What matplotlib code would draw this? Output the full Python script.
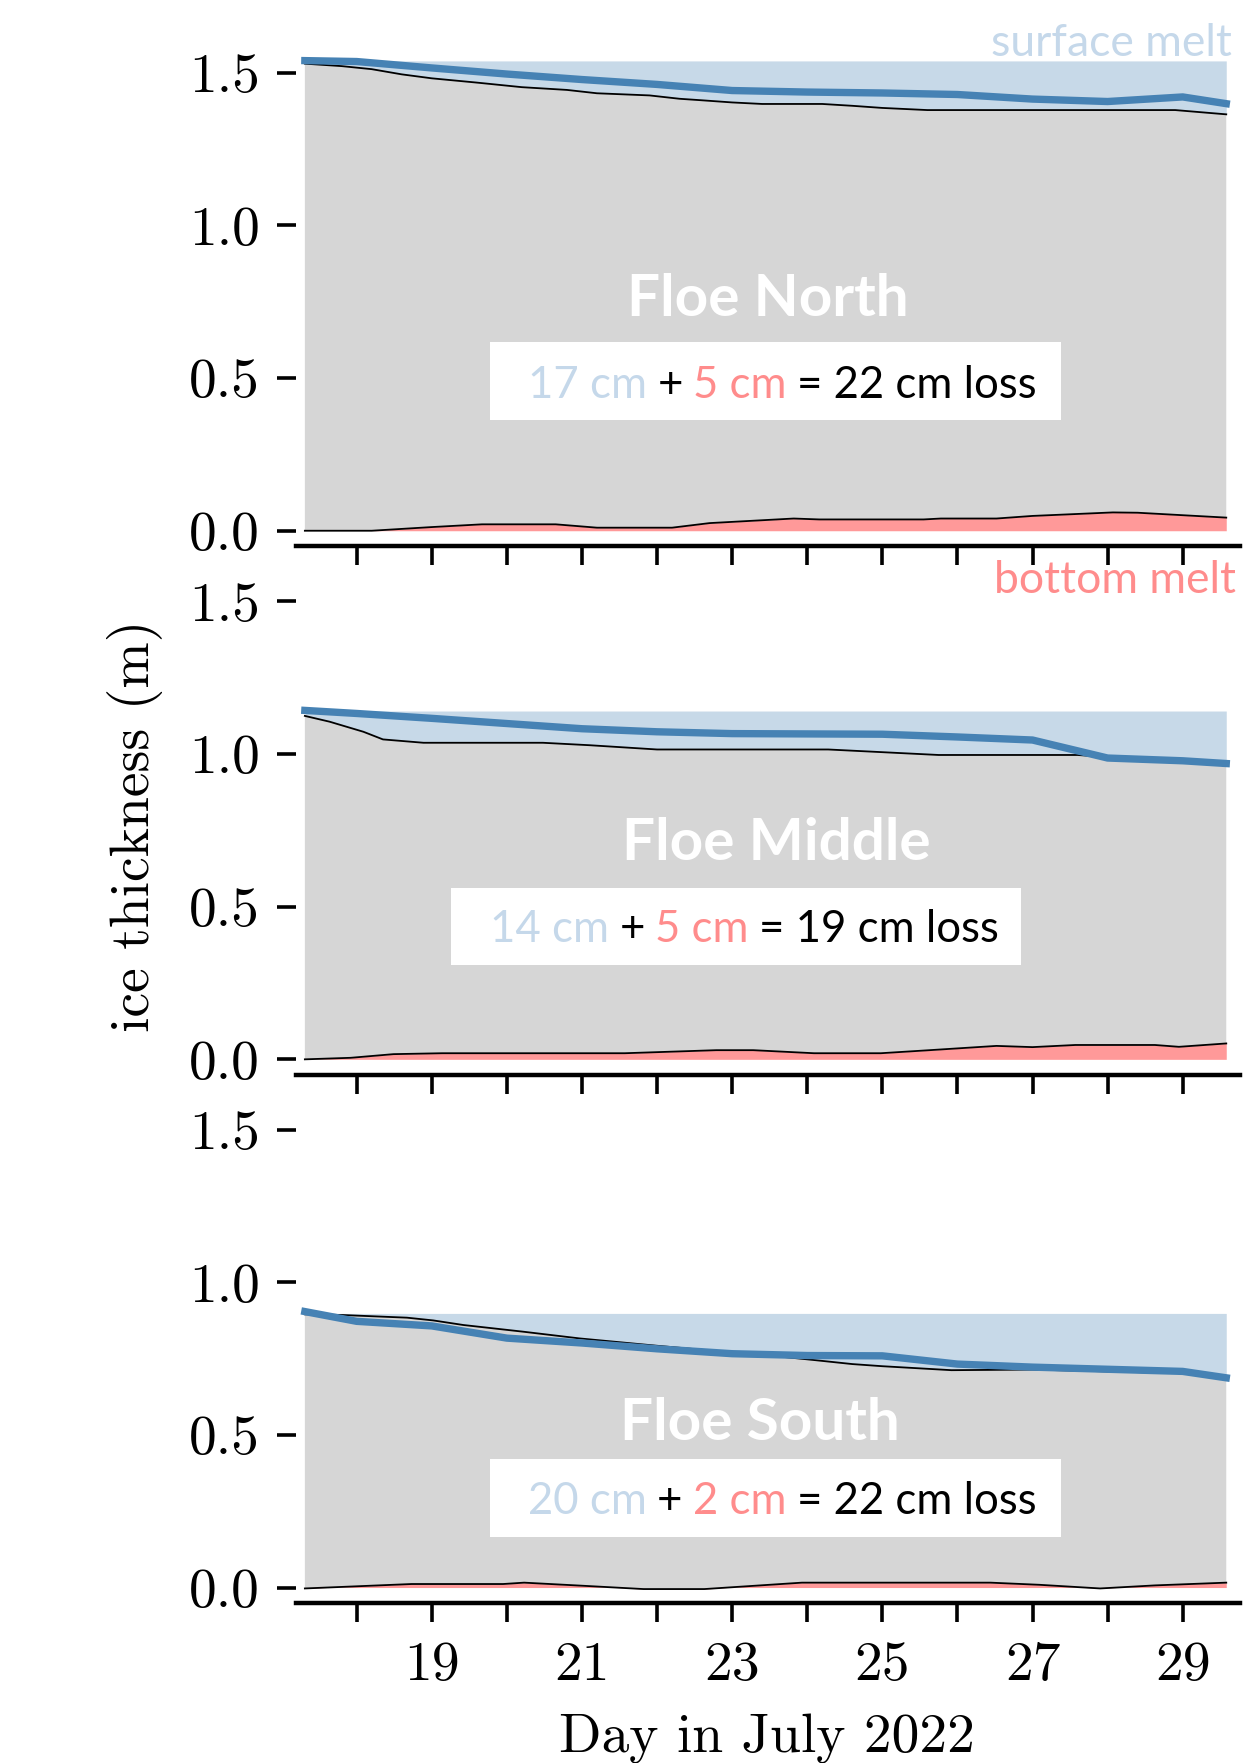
import numpy as np
import matplotlib
matplotlib.use("Agg")
import matplotlib.pyplot as plt
from matplotlib.patches import Rectangle

# ---------------- data ----------------
floe_names = ["Floe North", "Floe Middle", "Floe South"]
surface_cm = [17, 14, 20]
bottom_cm = [5, 5, 2]
total_cm = [22, 19, 22]
initial_thickness = [1.539, 1.141, 0.898]

# North
n_top_days = [17.31, 17.8, 18.2, 18.6, 19.0, 19.6, 20.2, 20.8, 21.2, 21.9, 22.3, 22.6, 23.0, 23.4,
              24.2, 24.6, 25.0, 25.6, 28.9, 29.58]
n_top = [1.530, 1.522, 1.512, 1.495, 1.482, 1.468, 1.453, 1.444, 1.433, 1.426, 1.415, 1.410, 1.403, 1.398,
         1.398, 1.392, 1.385, 1.378, 1.378, 1.364]
n_bot_days = [17.31, 18.2, 19.0, 19.67, 20.65, 21.2, 22.2, 22.7, 23.82, 24.16, 25.55, 25.78, 26.52, 27.0,
              28.07, 28.4, 29.58]
n_bot = [0.0, 0.0, 0.012, 0.021, 0.021, 0.010, 0.010, 0.025, 0.040, 0.037, 0.037, 0.040, 0.040, 0.0485,
         0.060, 0.059, 0.043]
n_blue_days = [17.31, 18.0, 19.0, 20.0, 21.0, 22.0, 23.0, 24.0, 25.0, 26.0, 27.0, 28.0, 29.0, 29.58]
n_blue = [1.540, 1.537, 1.516, 1.496, 1.478, 1.462, 1.442, 1.437, 1.434, 1.429, 1.414, 1.406, 1.421, 1.399]

# Middle
m_top_days = [17.31, 17.64, 18.09, 18.35, 18.89, 20.48, 21.1, 22.0, 24.28, 25.75, 27.6, 28.0, 29.58]
m_top = [1.125, 1.106, 1.073, 1.048, 1.037, 1.037, 1.029, 1.015, 1.015, 0.997, 0.997, 0.990, 0.972]
m_bot_days = [17.31, 17.92, 18.49, 19.14, 21.57, 22.79, 23.28, 24.09, 24.98, 25.63, 26.52, 27.0, 27.57,
              28.63, 28.95, 29.58]
m_bot = [0.0, 0.005, 0.017, 0.020, 0.020, 0.030, 0.030, 0.020, 0.020, 0.030, 0.044, 0.040, 0.047,
         0.047, 0.041, 0.052]
m_blue_days = [17.31, 18.0, 19.0, 20.0, 21.0, 22.0, 23.0, 24.0, 25.0, 26.0, 27.0, 28.0, 29.0, 29.58]
m_blue = [1.143, 1.133, 1.117, 1.100, 1.083, 1.073, 1.067, 1.066, 1.065, 1.056, 1.046, 0.987, 0.978, 0.969]

# South
s_top_days = [17.31, 17.78, 18.67, 19.02, 19.42, 20.22, 20.97, 22.0, 23.0, 23.5, 24.1, 24.6, 25.0, 25.92,
              27.0, 28.0, 29.0, 29.58]
s_top = [0.895, 0.893, 0.884, 0.875, 0.860, 0.838, 0.816, 0.792, 0.770, 0.760, 0.745, 0.732, 0.725, 0.712,
         0.714, 0.708, 0.702, 0.688]
s_bot_days = [17.31, 18.73, 19.95, 20.23, 21.0, 21.82, 22.63, 23.93, 26.44, 27.09, 27.9, 28.63, 29.58]
s_bot = [-0.003, 0.0115, 0.0115, 0.016, 0.006, -0.005, -0.005, 0.016, 0.016, 0.009, -0.003, 0.007, 0.016]
s_blue_days = [17.31, 18.0, 19.0, 20.0, 21.0, 22.0, 23.0, 24.0, 25.0, 26.0, 27.0, 28.0, 29.0, 29.58]
s_blue = [0.904, 0.872, 0.857, 0.817, 0.801, 0.782, 0.766, 0.760, 0.759, 0.732, 0.722, 0.715, 0.708, 0.687]

ytick_values = [0.0, 0.5, 1.0, 1.5]
ytick_labels = ["0.0", "0.5", "1.0", "1.5"]
xtick_days = list(range(18, 30))
xtick_labels = ["", "19", "", "21", "", "23", "", "25", "", "27", "", "29"]

# ---------------- style ----------------
GREY = "#d6d6d6"
LBLUE = "#c7d9e8"
BLUE = "#4682b4"
RED_FILL = "#ff9999"
RED_TXT = "#ff8c8c"
LBLUE_TXT = "#c5d8ea"
SERIF = "cmr10"
SANS = "Lato"

W, H = 1243, 1763
fig = plt.figure(figsize=(W / 100, H / 100), dpi=100)

left_px, right_px = 296, 1240
ax_h_px = 503.7
bottoms_px = [546.0, 1074.6, 1602.8]  # axes bottom edges from top of figure

panels = [
    (n_top_days, n_top, n_bot_days, n_bot, n_blue_days, n_blue),
    (m_top_days, m_top, m_bot_days, m_bot, m_blue_days, m_blue),
    (s_top_days, s_top, s_bot_days, s_bot, s_blue_days, s_blue),
]
title_pos = [(0.4993, 0.4572), (0.509, 0.4253), (0.4914, 0.3224)]
box_rect = [(0.2053, 0.2497, 0.605, 0.1558), (0.164, 0.2184, 0.604, 0.153), (0.2053, 0.131, 0.605, 0.1537)]
line_pos = [(0.2455, 0.2938), (0.2053, 0.263), (0.2455, 0.1755)]

axes = []
for i, (td, tv, bd, bv, ud, uv) in enumerate(panels):
    ax = fig.add_axes([left_px / W, 1 - bottoms_px[i] / H, (right_px - left_px) / W, ax_h_px / H])
    axes.append(ax)
    td, tv, bd, bv = map(np.asarray, (td, tv, bd, bv))
    ax.fill_between(bd, 0, bv, color=RED_FILL, lw=0, zorder=1)
    ax.fill(np.r_[td, bd[::-1]], np.r_[tv, bv[::-1]], color=GREY, lw=0, zorder=1.5)
    ax.fill_between(td, tv, initial_thickness[i], color=LBLUE, lw=0, zorder=1)
    ax.plot(td, tv, color="black", lw=1.3, zorder=3)
    ax.plot(bd, bv, color="black", lw=1.3, zorder=3)
    ax.plot(ud, uv, color=BLUE, lw=5.3, zorder=4)

    ax.set_xlim(17.192, 29.763)
    ax.set_ylim(-0.05, 1.6)
    for s in ["left", "right", "top"]:
        ax.spines[s].set_visible(False)
    ax.spines["bottom"].set_linewidth(3.2)
    ax.set_yticks(ytick_values)
    ax.set_yticklabels(ytick_labels, fontfamily=SERIF, fontsize=40)
    ax.set_xticks(xtick_days)
    if i == 2:
        ax.set_xticklabels(xtick_labels, fontfamily=SERIF, fontsize=40)
    else:
        ax.set_xticklabels([""] * len(xtick_days))
    ax.tick_params(axis="both", direction="out", length=14, width=2.6, color="black")
    ax.tick_params(axis="y", pad=12)
    ax.tick_params(axis="x", pad=14)
    ax.set_facecolor("none")

    # annotations
    ax.text(title_pos[i][0], title_pos[i][1], floe_names[i], transform=ax.transAxes,
            ha="center", va="baseline", color="white", fontsize=42, fontweight="bold",
            fontfamily=SANS, zorder=6)
    bx, by, bw, bh = box_rect[i]
    ax.add_patch(Rectangle((bx, by), bw, bh, transform=ax.transAxes, facecolor="white",
                           edgecolor="none", zorder=5))
    fs = 31.5
    parts = [(f"{surface_cm[i]} cm", LBLUE_TXT), ("+", "black"),
             (f"{bottom_cm[i]} cm", RED_TXT), (f"= {total_cm[i]} cm loss", "black")]
    t = ax.text(line_pos[i][0], line_pos[i][1], parts[0][0], transform=ax.transAxes,
                ha="left", va="baseline", color=parts[0][1], fontsize=fs, fontfamily=SANS, zorder=6)
    for s, c in parts[1:]:
        t = ax.annotate(s, xy=(1, 0), xycoords=t, xytext=(0.24 * fs, 0), textcoords="offset points",
                        ha="left", va="bottom", color=c, fontsize=fs, fontfamily=SANS, zorder=6)

axes[0].text(0.9915, 0.9728, "surface melt", transform=axes[0].transAxes, ha="right", va="baseline",
             color=LBLUE_TXT, fontsize=32, fontfamily=SANS, zorder=6)
axes[1].text(0.9958, 0.956, "bottom melt", transform=axes[1].transAxes, ha="right", va="baseline",
             color=RED_TXT, fontsize=32, fontfamily=SANS, zorder=6)

axes[1].set_ylabel("ice thickness (m)", fontfamily=SERIF, fontsize=40)
axes[1].yaxis.set_label_coords((135 - left_px) / (right_px - left_px), 0.494)
axes[1].yaxis.label.set_va("center")

axes[2].set_xlabel("Day in July 2022", fontfamily=SERIF, fontsize=40)
axes[2].xaxis.set_label_coords(0.499, -(1752 - 1602.8) / ax_h_px)
axes[2].xaxis.label.set_va("baseline")

fig.savefig("out.png", dpi=100)
